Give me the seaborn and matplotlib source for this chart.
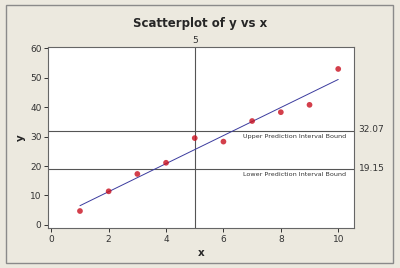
import matplotlib
matplotlib.use("Agg")
import matplotlib.pyplot as plt
import seaborn as sns
import pandas as pd
from matplotlib.patches import Rectangle

x = [1, 2, 3, 4, 5, 6, 7, 8, 9, 10]
y = [4.7, 11.4, 17.3, 21.1, 29.5, 28.3, 35.3, 38.3, 40.8, 53.0]
upper_bound = 32.07
lower_bound = 19.15
x_ref = 5
x_ticks = [0, 2, 4, 6, 8, 10]
y_ticks = [0, 10, 20, 30, 40, 50, 60]

df = pd.DataFrame({"x": x, "y": y})

sns.set_style("white")
plt.rcParams['font.family'] = ['DejaVu Sans']

bg = "#ECE9DF"
fig = plt.figure(figsize=(4.0, 2.68), dpi=100, facecolor=bg)
ax = fig.add_axes([0.121, 0.149, 0.764, 0.676])
ax.set_facecolor("white")

sns.regplot(data=df, x="x", y="y", ci=None, ax=ax,
            scatter_kws=dict(color="#C80F1E", s=17, edgecolor="none", zorder=3),
            line_kws=dict(color="#3B3B9E", lw=0.7, zorder=2))

ax.axhline(upper_bound, color="#555555", lw=0.8, zorder=1)
ax.axhline(lower_bound, color="#555555", lw=0.8, zorder=1)
ax.axvline(x_ref, color="#555555", lw=0.8, zorder=1)

ax.set_xlim(-0.1, 10.55)
ax.set_ylim(-1.1, 60.5)
ax.set_xticks(x_ticks)
ax.set_yticks(y_ticks)
ax.tick_params(axis="both", direction="out", length=3, width=0.7, color="#333333",
               labelsize=6.5, labelcolor="#333333", pad=2, bottom=True, left=True)
for s in ax.spines.values():
    s.set_color("#666666")
    s.set_linewidth(0.8)

ax.set_xlabel("x", fontsize=7.5, fontweight="bold", labelpad=3)
ax.set_ylabel("y", fontsize=7.5, fontweight="bold", labelpad=3)
fig.text(0.5, 0.912, "Scatterplot of y vs x", ha="center", va="center",
         fontsize=8.5, fontweight="bold")

ax.text(x_ref, 1.01, str(x_ref), transform=ax.get_xaxis_transform(),
        ha="center", va="bottom", fontsize=6.5, color="#333333")
ax.text(1.015, upper_bound + 0.5, f"{upper_bound:.2f}", transform=ax.get_yaxis_transform(),
        ha="left", va="center", fontsize=6.5, color="#333333")
ax.text(1.015, lower_bound, f"{lower_bound:.2f}", transform=ax.get_yaxis_transform(),
        ha="left", va="center", fontsize=6.5, color="#333333")
ax.text(0.975, upper_bound - 1.2, "Upper Prediction Interval Bound",
        transform=ax.get_yaxis_transform(), ha="right", va="top",
        fontsize=4.6, color="#333333")
ax.text(0.975, lower_bound - 1.2, "Lower Prediction Interval Bound",
        transform=ax.get_yaxis_transform(), ha="right", va="top",
        fontsize=4.6, color="#333333")

fig.patches.append(Rectangle((0.015, 0.02), 0.967, 0.96, transform=fig.transFigure,
                             fill=False, edgecolor="#8A8A8A", lw=1.0))

fig.savefig("out.png", dpi=100, facecolor=bg)
